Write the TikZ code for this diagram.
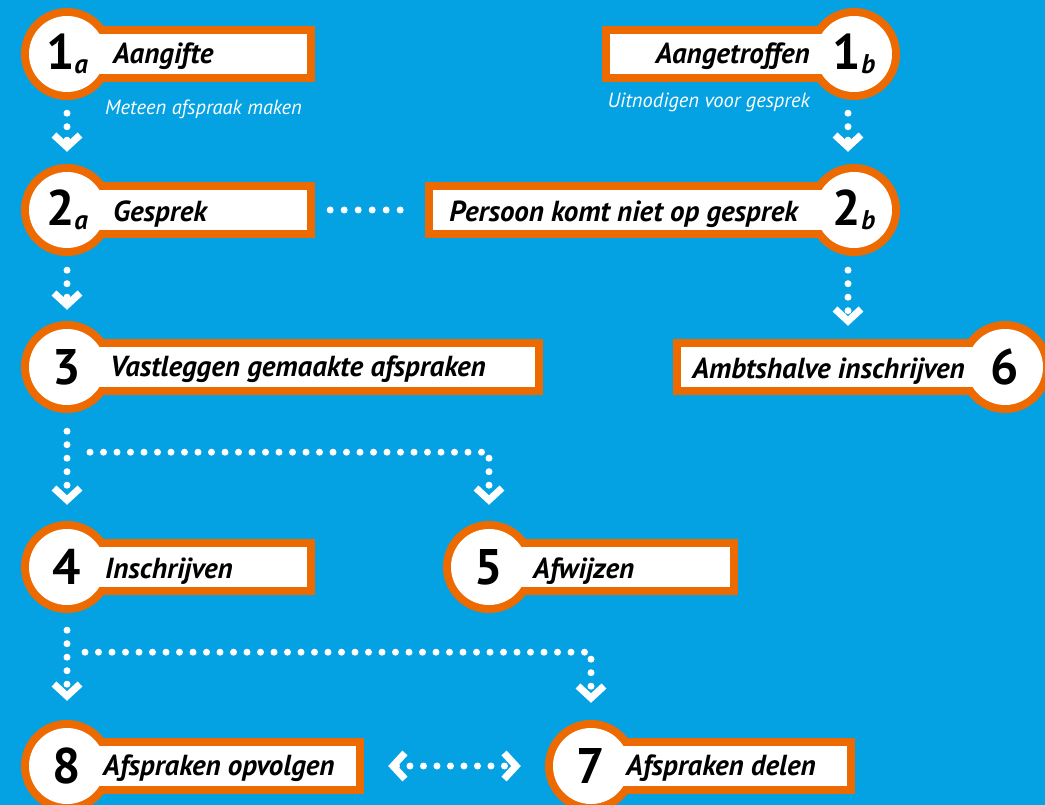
\documentclass[tikz,border=0pt]{standalone}
\usepackage{fontspec}
\setmainfont{PT Sans}
\usetikzlibrary{arrows.meta, backgrounds}

\definecolor{skyblue}{HTML}{04A2E2}
\definecolor{roorange}{HTML}{EC6A00}

\newcommand{\stepidx}[1]{\raisebox{-4pt}{\fontsize{27}{27}\selectfont\itshape #1}}

\tikzset{
  disc/.style={circle, fill=white, minimum size=76pt, inner sep=0pt, font=\fontsize{50}{50}\selectfont\bfseries},
  plate/.style={rectangle, fill=white, minimum height=40pt, inner sep=0pt},
  lbl/.style={inner sep=0pt, font=\fontsize{29}{29}\selectfont\bfseries\itshape},
  hint/.style={inner sep=0pt, text=white, font=\fontsize{20.5}{20.5}\selectfont\itshape},
  rim/.style={draw=roorange, line width=16pt},
  flow/.style={white, line width=7pt, line cap=round, dash pattern=on 0pt off 13.5pt, ->},
  link/.style={white, line width=7pt, line cap=round, dash pattern=on 0pt off 14pt},
}

\begin{document}
\begin{tikzpicture}[x=1pt, y=-1pt, >={Straight Barb[length=12pt, width=26pt]}]
    \useasboundingbox (0,0) rectangle (1045,805);

    % white plates first, the discs go on top of them
    \node[plate, minimum width=240pt] (t1a) at (187,54) {};
    \node[plate, minimum width=244pt] (t1b) at (732,54) {};
    \node[plate, minimum width=240pt] (t2a) at (187,210) {};
    \node[plate, minimum width=421pt] (t2b) at (643.5,210) {};
    \node[plate, minimum width=468pt] (t3) at (301,367) {};
    \node[plate, minimum width=324pt] (t6) at (843,367) {};
    \node[plate, minimum width=240pt] (t4) at (187,567) {};
    \node[plate, minimum width=241pt] (t5) at (609.5,567) {};
    \node[plate, minimum width=289pt] (t8) at (211.5,766) {};
    \node[plate, minimum width=256pt] (t7) at (719,766) {};

    \node[disc] (n1a) at (67,54) {1\stepidx{a}};
    \node[disc] (n1b) at (854,54) {1\stepidx{b}};
    \node[disc] (n2a) at (67,210) {2\stepidx{a}};
    \node[disc] (n2b) at (854,210) {2\stepidx{b}};
    \node[disc] (n3) at (67,367) {3};
    \node[disc] (n6) at (1005,367) {6};
    \node[disc] (n4) at (67,567) {4};
    \node[disc] (n5) at (489,567) {5};
    \node[disc] (n8) at (67,766) {8};
    \node[disc] (n7) at (591,766) {7};

    \node[lbl, anchor=base west] (l1a) at (113,64) {Aangifte};
    \node[lbl, anchor=base east] (l1b) at (810,64) {Aangetroffen};
    \node[lbl, anchor=base west] (l2a) at (113,222) {Gesprek};
    \node[lbl, anchor=base east] (l2b) at (798,222) {Persoon komt niet op gesprek};
    \node[lbl, anchor=base west] (l3) at (110,377) {Vastleggen gemaakte afspraken};
    \node[lbl, anchor=base east] (l6) at (965,378) {Ambtshalve inschrijven};
    \node[lbl, anchor=base west] (l4) at (105,578) {Inschrijven};
    \node[lbl, anchor=base west] (l5) at (533,578) {Afwijzen};
    \node[lbl, anchor=base west] (l8) at (103,775) {Afspraken opvolgen};
    \node[lbl, anchor=base west] (l7) at (626,775) {Afspraken delen};

    \node[hint, anchor=base west] (h1a) at (105,115) {Meteen afspraak maken};
    \node[hint, anchor=base east] (h1b) at (810,108) {Uitnodigen voor gesprek};

    % dotted connectors
    \draw[flow, shorten <=21pt, shorten >=20pt] (n1a) -- (n2a);
    \draw[flow, shorten <=21pt, shorten >=20pt] ([xshift=-6pt]n1b.south) -- ([xshift=-6pt]n2b.north);
    \draw[link, shorten <=23pt, shorten >=20pt] (t2a.east) -- (t2b.west);
    \draw[flow, shorten <=22pt, shorten >=19pt] (n2a) -- (n3);
    \draw[flow, shorten <=22pt, shorten >=21pt] ([xshift=-6pt]n2b.south) -- ([xshift=-6pt]n2b.south |- t6.north);
    \draw[flow, shorten <=26pt, shorten >=24pt] (n3) -- (n4);
    \draw[flow, shorten >=24pt] ([shift={(23,47)}]n3.south) -| (n5);
    \draw[flow, shorten <=25pt, shorten >=27pt] (n4) -- (n8);
    \draw[flow, shorten >=25pt] ([shift={(18,47)}]n4.south) -| (n7);
    \draw[flow, <->, shorten <=32pt, shorten >=32pt] (t8.east) -- (n7);

    % blue ground and the orange rims behind everything
    \begin{scope}[on background layer]
        \fill[skyblue] (0,0) rectangle (1045,805);
        \foreach \s in {1a,1b,2a,2b,3,6,4,5,8,7} {
            \draw[rim] (t\s.north west) rectangle (t\s.south east);
            \draw[rim] (n\s) circle[radius=38pt];
        }
    \end{scope}
\end{tikzpicture}
\end{document}
